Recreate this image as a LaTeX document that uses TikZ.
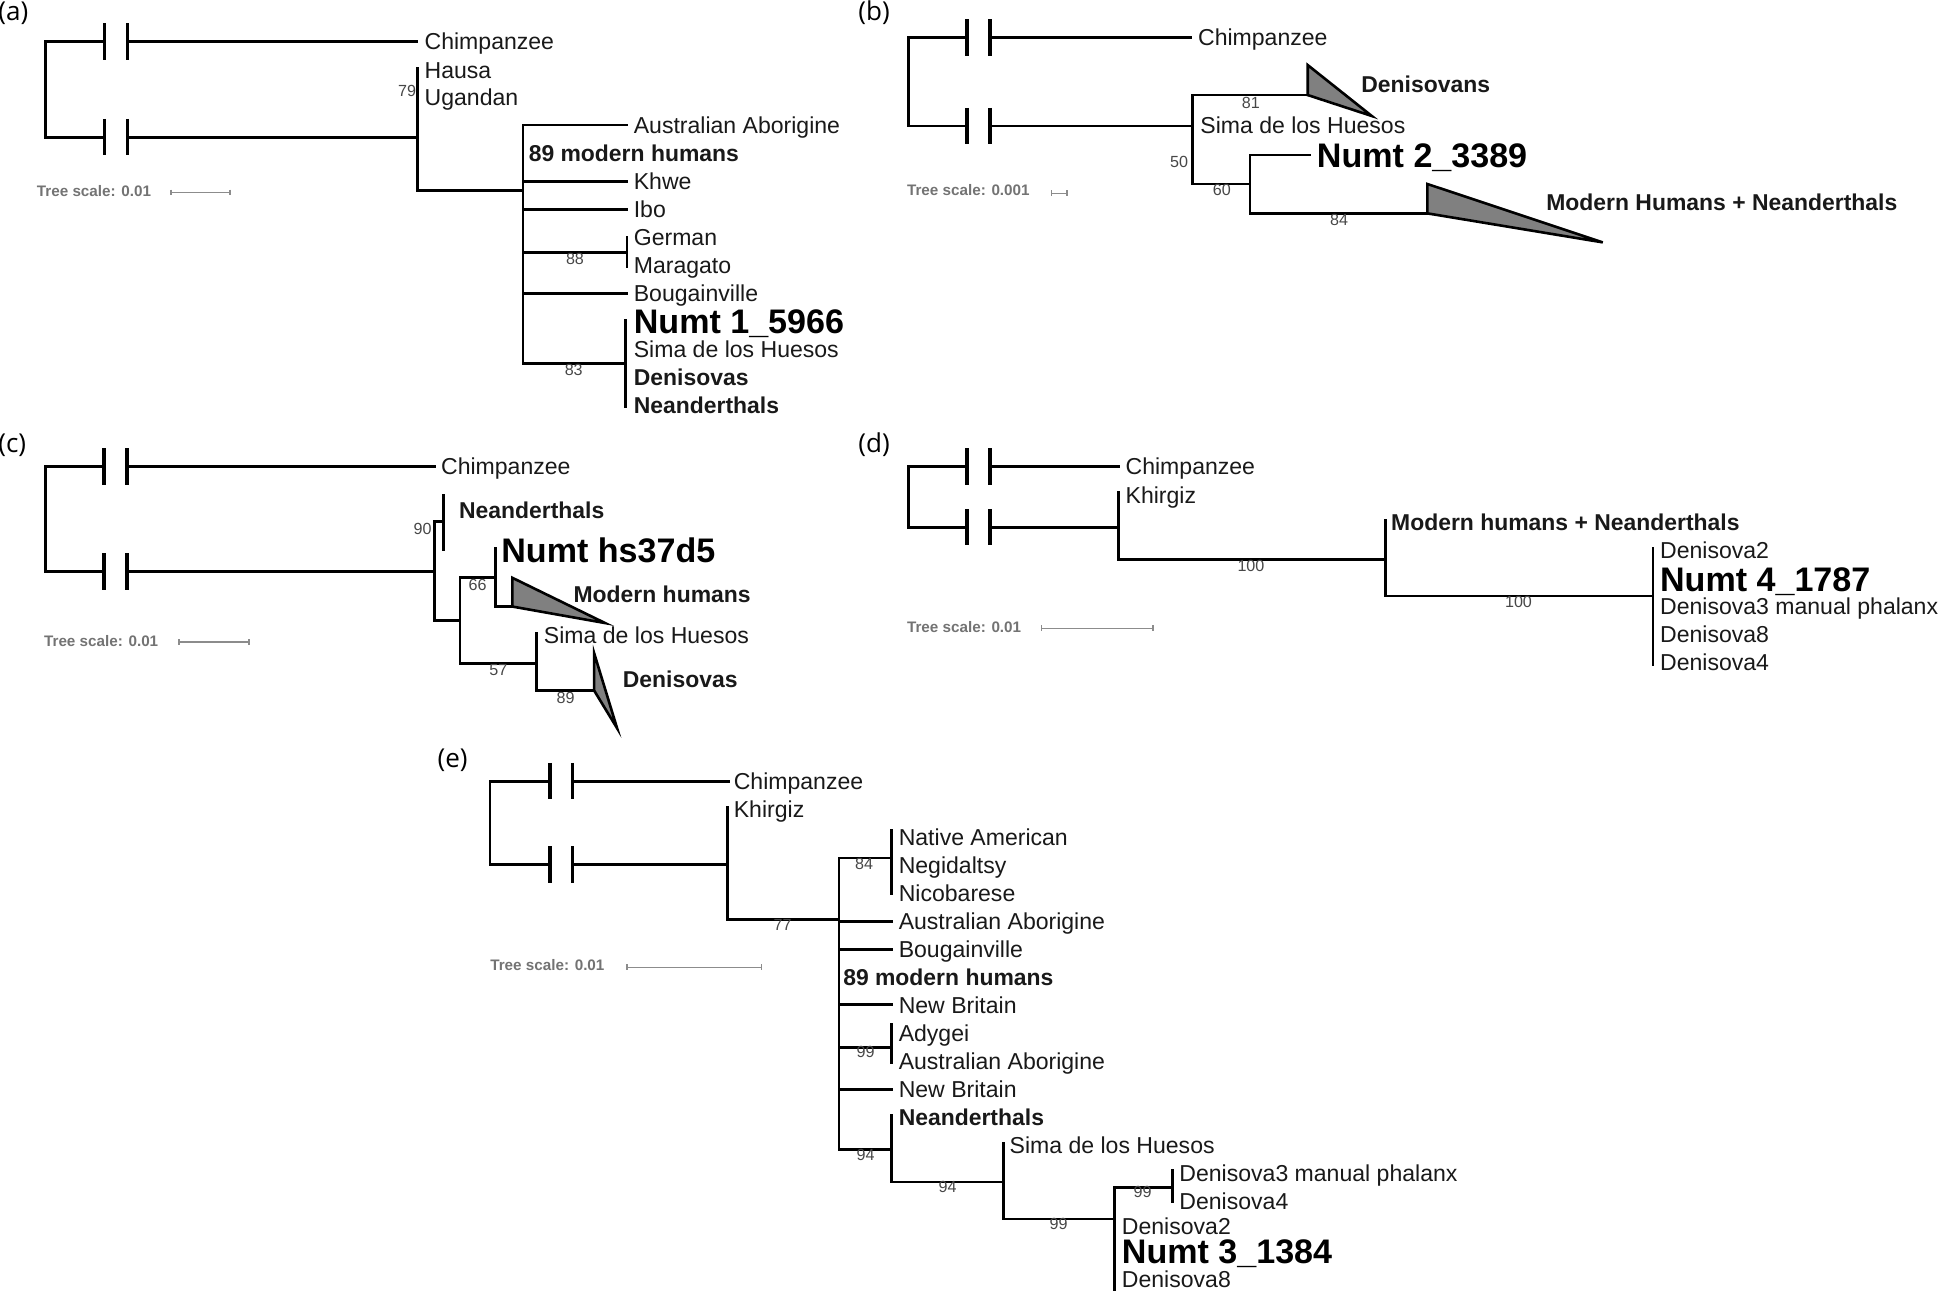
\documentclass[tikz,border=0pt]{standalone}
\usepackage{fontspec}
\setmainfont{Liberation Sans}
\newfontfamily\panelfont{Open Sans}
\begin{document}
\begin{tikzpicture}[x=1pt,y=-1pt,
  tree/.style={line width=2.2pt, line cap=rect, line join=miter},
  brkbar/.style={line width=2.8pt},
  clade/.style={draw=black, fill=black!50, line width=2.1pt, line join=miter},
  lab/.style={anchor=base west, inner sep=0pt, yshift=-6.66pt, font=\fontsize{18.6}{20}\selectfont, text=black!90},
  blab/.style={lab, font=\fontsize{18.5}{20}\selectfont\bfseries},
  numt/.style={anchor=base west, inner sep=0pt, yshift=-9.85pt, font=\fontsize{27.5}{30}\selectfont\bfseries},
  sup/.style={anchor=base, inner sep=0pt, yshift=-4.65pt, font=\fontsize{13}{14}\selectfont, text=black!72},
  scl/.style={anchor=base west, inner sep=0pt, yshift=-4.4pt, font=\fontsize{12.3}{13}\selectfont\bfseries, text=black!55},
  sbar/.style={line width=1pt, draw=black!45},
  plab/.style={anchor=base west, inner sep=0pt, font=\panelfont\fontsize{21}{22}\selectfont},
  brk/.pic={\draw[brkbar] (0,-14.7) -- (0,14.7); \draw[brkbar] (18.5,-14.7) -- (18.5,14.7);}
]
\useasboundingbox (0,0) rectangle (1568,1042.7);

%================ panel (a)
\node[plab] (pa) at (-1.5,16.5) {(a)};
\coordinate (aR) at (36.8,72);
\coordinate (aX1) at (84.2,33.6);
\coordinate (aX2) at (84.2,110.7);
\coordinate (aC) at (336,33.6);
\coordinate (aN1) at (337.2,110.7);
\draw[tree] (aX1) -| (aR) |- (aX2);
\pic at (aX1) {brk}; \pic at (aX2) {brk};
\draw[tree] (aX1) ++(18.5,0) -- (aC);
\draw[tree] (aX2) ++(18.5,0) -- (aN1);
\node[lab] (aChim) at (342.5,33.6) {Chimpanzee};
\coordinate (aHa) at (337.2,55.1);
\coordinate (aN2) at (422,153.9);
\draw[tree] (aHa) -- (aN1) |- (aN2);
\node[lab] (aHausa) at (342.5,56.5) {Hausa};
\node[lab] (aUg) at (342.5,78.8) {Ugandan};
\node[sup, anchor=base east] (a79) at (336,73) {79};
\coordinate (aL1) at (506,100.9);
\coordinate (aL3) at (506,146.6);
\coordinate (aL4) at (506,168.9);
\coordinate (aN3) at (506,203.6);
\coordinate (aL6) at (506,236.7);
\coordinate (aN4) at (504.7,293.2);
\foreach \c in {aL1,aL3,aL4,aN3,aL6,aN4} \draw[tree] (aN2) |- (\c);
\coordinate (aGt) at (506,191.5); \coordinate (aGb) at (506,215.2);
\draw[tree] (aGt) -- (aGb);
\coordinate (aNt) at (504.7,258.3); \coordinate (aNb) at (504.7,328.2);
\draw[tree] (aNt) -- (aNb);
\node[lab] (aAus) at (511.3,100.9) {Australian Aborigine};
\node[blab] (a89) at (426.5,123.7) {89 modern humans};
\node[lab] (aKhwe) at (511.3,146.6) {Khwe};
\node[lab] (aIbo) at (511.3,168.9) {Ibo};
\node[lab] (aGer) at (511.3,191.5) {German};
\node[lab] (aMar) at (511.3,214.4) {Maragato};
\node[sup] (a88) at (464,208.5) {88};
\node[lab] (aBou) at (511.3,236.7) {Bougainville};
\node[numt] (aNumt) at (511.3,259.6) {Numt 1\_5966};
\node[lab] (aSima) at (511.3,281.9) {Sima de los Huesos};
\node[blab] (aDen) at (511.3,304.5) {Denisovas};
\node[blab] (aNea) at (511.3,326.9) {Neanderthals};
\node[sup] (a83) at (463,298.6) {83};
\node[scl] (aScale) at (29.6,154.2) {Tree scale: 0.01};
\coordinate (aS1) at (137.9,155.3); \coordinate (aS2) at (185.6,155.3);
\draw[sbar] (aS1) -- (aS2) (aS1) ++(0,-2.3) -- ++(0,4.6) (aS2) ++(0,-2.3) -- ++(0,4.6);

%================ panel (b)
\node[plab] (pb) at (692.5,16.5) {(b)};
\coordinate (bR) at (733,66);
\coordinate (bX1) at (780.3,30.1);
\coordinate (bX2) at (780.3,101.7);
\coordinate (bC) at (961.1,30.1);
\coordinate (bN1) at (962.5,101.7);
\draw[tree] (bX1) -| (bR) |- (bX2);
\pic at (bX1) {brk}; \pic at (bX2) {brk};
\draw[tree] (bX1) ++(18.5,0) -- (bC);
\draw[tree] (bX2) ++(18.5,0) -- (bN1);
\node[lab] (bChim) at (966.7,30.1) {Chimpanzee};
\coordinate (bD0) at (1055.3,76.7);
\coordinate (bD1) at (1055.3,52.5);
\coordinate (bD2) at (1107,93.6);
\coordinate (bN2) at (1008.8,148.5);
\draw[tree] (bN1) |- (bD0);
\draw[tree] (bN1) |- (bN2);
\draw[clade] (bD1) -- (bD0) -- (bD2) -- cycle;
\node[blab] (bDen) at (1098.4,67.8) {Denisovans};
\node[sup] (b81) at (1009.4,82.9) {81};
\node[lab] (bSima) at (968.5,100.9) {Sima de los Huesos};
\node[sup] (b50) at (951.6,130.4) {50};
\node[sup] (b60) at (986,153.3) {60};
\coordinate (bNu) at (1057,125.1);
\coordinate (bM0) at (1151.9,172.2);
\coordinate (bM1) at (1151.9,148.5);
\coordinate (bM2) at (1293.4,195.6);
\draw[tree] (bN2) |- (bNu);
\draw[tree] (bN2) |- (bM0);
\draw[clade] (bM1) -- (bM0) -- (bM2) -- cycle;
\node[numt] (bNumt) at (1062.6,125.1) {Numt 2\_3389};
\node[sup] (b84) at (1080.6,177.6) {84};
\node[blab] (bMHN) at (1247.7,163.3) {Modern Humans + Neanderthals};
\node[scl] (bScale) at (731.8,153.3) {Tree scale: 0.001};
\coordinate (bS1) at (848.7,156); \coordinate (bS2) at (861,156);
\draw[sbar] (bS1) -- (bS2) (bS1) ++(0,-2.3) -- ++(0,4.6) (bS2) ++(0,-2.3) -- ++(0,4.6);

%================ panel (c)
\node[plab] (pc) at (-1.5,364.8) {(c)};
\coordinate (cR) at (36.7,419);
\coordinate (cX1) at (84,376.6);
\coordinate (cX2) at (84,461.3);
\coordinate (cC) at (350.5,376.6);
\coordinate (cN1) at (350.5,461.3);
\draw[tree] (cX1) -| (cR) |- (cX2);
\pic at (cX1) {brk}; \pic at (cX2) {brk};
\draw[tree] (cX1) ++(18.5,0) -- (cC);
\draw[tree] (cX2) ++(18.5,0) -- (cN1);
\node[lab] (cChim) at (355.8,376.6) {Chimpanzee};
\coordinate (cNe) at (358,420.9);
\coordinate (cNeT) at (358,399.4);
\coordinate (cNeB) at (358,443.3);
\coordinate (cN2) at (371.2,500.8);
\draw[tree] (cN1) |- (cNe);
\draw[tree] (cN1) |- (cN2);
\draw[tree] (cNeT) -- (cNeB);
\node[sup, anchor=base east] (c90) at (348.5,426.8) {90};
\node[blab] (cNea) at (370.3,412) {Neanderthals};
\coordinate (cN3) at (400,465.8);
\coordinate (cN4) at (433.1,535.2);
\draw[tree] (cN2) |- (cN3);
\draw[tree] (cN2) |- (cN4);
\node[sup] (c66) at (385.4,472) {66};
\coordinate (cNu) at (400,442.5);
\coordinate (cM0) at (413.5,489.5);
\coordinate (cM1) at (413.5,466.3);
\coordinate (cM2) at (488.3,502.8);
\draw[tree] (cN3) -- (cNu);
\draw[tree] (cN3) |- (cM0);
\draw[clade] (cM1) -- (cM0) -- (cM2) -- cycle;
\node[numt] (cNumt) at (404.4,444.3) {Numt hs37d5};
\node[blab] (cMH) at (462.7,479.3) {Modern humans};
\node[sup] (c57) at (402.2,540.1) {57};
\coordinate (cSi) at (433.1,511);
\coordinate (cD0) at (479.5,557.3);
\coordinate (cD1) at (479.5,527.2);
\coordinate (cD2) at (498,587.7);
\draw[tree] (cN4) -- (cSi);
\draw[tree] (cN4) |- (cD0);
\draw[clade] (cD1) -- (cD0) -- (cD2) -- cycle;
\node[lab] (cSima) at (438.8,512.4) {Sima de los Huesos};
\node[sup] (c89) at (456.5,562.7) {89};
\node[blab] (cDen) at (502.5,548.1) {Denisovas};
\node[scl] (cScale) at (35.4,517) {Tree scale: 0.01};
\coordinate (cS1) at (144.5,518); \coordinate (cS2) at (201,518);
\draw[sbar] (cS1) -- (cS2) (cS1) ++(0,-2.3) -- ++(0,4.6) (cS2) ++(0,-2.3) -- ++(0,4.6);

%================ panel (d)
\node[plab] (pd) at (692.5,364.8) {(d)};
\coordinate (dR) at (733,401);
\coordinate (dX1) at (780.3,376.6);
\coordinate (dX2) at (780.3,425.5);
\coordinate (dC) at (902.7,376.6);
\coordinate (dN1) at (902.7,425.5);
\draw[tree] (dX1) -| (dR) |- (dX2);
\pic at (dX1) {brk}; \pic at (dX2) {brk};
\draw[tree] (dX1) ++(18.5,0) -- (dC);
\draw[tree] (dX2) ++(18.5,0) -- (dN1);
\node[lab] (dChim) at (908.2,376.6) {Chimpanzee};
\coordinate (dK) at (902.7,397.5);
\coordinate (dN2) at (1118,451.3);
\draw[tree] (dK) -- (dN1) |- (dN2);
\node[lab] (dKh) at (908.2,399.4) {Khirgiz};
\node[sup] (d100a) at (1009.5,456.4) {100};
\coordinate (dMH) at (1118,419.6);
\coordinate (dN3) at (1334,480.9);
\draw[tree] (dMH) -- (dN2) |- (dN3);
\node[blab] (dMHN) at (1122.5,421.7) {Modern humans + Neanderthals};
\node[sup] (d100b) at (1225.4,485.5) {100};
\coordinate (dT) at (1334,442.5); \coordinate (dB) at (1334,536.6);
\draw[tree] (dT) -- (dB);
\node[lab] (dD2) at (1339.5,444.3) {Denisova2};
\node[numt] (dNumt) at (1339.5,467.2) {Numt 4\_1787};
\node[lab] (dD3) at (1339.5,489.5) {Denisova3 manual phalanx};
\node[lab] (dD8) at (1339.5,511.8) {Denisova8};
\node[lab] (dD4) at (1339.5,534.7) {Denisova4};
\node[scl] (dScale) at (731.8,505.7) {Tree scale: 0.01};
\coordinate (dS1) at (840.4,507); \coordinate (dS2) at (930.5,507);
\draw[sbar] (dS1) -- (dS2) (dS1) ++(0,-2.3) -- ++(0,4.6) (dS2) ++(0,-2.3) -- ++(0,4.6);

%================ panel (e)
\node[plab] (pe) at (353,619.2) {(e)};
\coordinate (eR) at (395.5,664);
\coordinate (eX1) at (443.7,630.4);
\coordinate (eX2) at (443.7,697.5);
\coordinate (eC) at (588,630.4);
\coordinate (eN1) at (587,697.5);
\draw[tree] (eX1) -| (eR) |- (eX2);
\pic at (eX1) {brk}; \pic at (eX2) {brk};
\draw[tree] (eX1) ++(18.5,0) -- (eC);
\draw[tree] (eX2) ++(18.5,0) -- (eN1);
\node[lab] (eChim) at (592,630.4) {Chimpanzee};
\coordinate (eK) at (587,651.2);
\coordinate (eN2) at (677,742.1);
\draw[tree] (eK) -- (eN1) |- (eN2);
\node[lab] (eKh) at (592,653.2) {Khirgiz};
\node[sup] (e77) at (631.6,746.4) {77};
\coordinate (eN3) at (719.4,692.4);
\coordinate (eL1) at (719.4,743.6);
\coordinate (eL2) at (719.4,766.3);
\coordinate (eL3) at (719.4,810.9);
\coordinate (eN4) at (719.4,845.3);
\coordinate (eL4) at (719.4,879.1);
\coordinate (eN5) at (719.4,927.7);
\foreach \c in {eN3,eL1,eL2,eL3,eN4,eL4,eN5} \draw[tree] (eN2) |- (\c);
\coordinate (eN3t) at (719.4,669.7); \coordinate (eN3b) at (719.4,720.8);
\draw[tree] (eN3t) -- (eN3b);
\node[sup] (e84) at (697.3,697.2) {84};
\coordinate (eN4t) at (719.4,826.8); \coordinate (eN4b) at (719.4,857.2);
\draw[tree] (eN4t) -- (eN4b);
\node[sup] (e99a) at (698.5,848.7) {99};
\node[lab] (eNA) at (725.1,675.9) {Native American};
\node[lab] (eNeg) at (725.1,698.4) {Negidaltsy};
\node[lab] (eNic) at (725.1,720.8) {Nicobarese};
\node[lab] (eAus1) at (725.1,743.6) {Australian Aborigine};
\node[lab] (eBou) at (725.1,766.3) {Bougainville};
\node[blab] (e89) at (680.3,789) {89 modern humans};
\node[lab] (eNB1) at (725.1,810.9) {New Britain};
\node[lab] (eAdy) at (725.1,833.9) {Adygei};
\node[lab] (eAus2) at (725.1,856.4) {Australian Aborigine};
\node[lab] (eNB2) at (725.1,879.1) {New Britain};
\node[blab] (eNea) at (725.1,901.8) {Neanderthals};
\coordinate (eNeT) at (719.4,899.8);
\coordinate (eN6) at (810,953.8);
\draw[tree] (eNeT) -- (eN5) |- (eN6);
\node[sup] (e94a) at (698.5,932) {94};
\coordinate (eSi) at (810,922.6);
\coordinate (eN7) at (899.5,983.7);
\draw[tree] (eSi) -- (eN6) |- (eN7);
\node[sup] (e94b) at (764.7,957.5) {94};
\node[lab] (eSima) at (814.6,924.6) {Sima de los Huesos};
\coordinate (eN8) at (946,958.1);
\coordinate (eBot) at (899.5,1040.5);
\draw[tree] (eN7) |- (eN8);
\draw[tree] (eN7) -- (eBot);
\node[sup] (e99b) at (854.2,987.4) {99};
\coordinate (eN8t) at (946,944.5); \coordinate (eN8b) at (946,969.5);
\draw[tree] (eN8t) -- (eN8b);
\node[sup] (e99c) at (922.1,961.8) {99};
\node[lab] (eD3) at (951.6,946.7) {Denisova3 manual phalanx};
\node[lab] (eD4) at (951.6,969.5) {Denisova4};
\node[lab] (eD2) at (905.2,989.6) {Denisova2};
\node[numt] (eNumt) at (905.2,1009.6) {Numt 3\_1384};
\node[lab] (eD8) at (905.2,1032.2) {Denisova8};
\node[scl] (eScale) at (395.5,779) {Tree scale: 0.01};
\coordinate (eS1) at (506,780.5); \coordinate (eS2) at (614.7,780.5);
\draw[sbar] (eS1) -- (eS2) (eS1) ++(0,-2.3) -- ++(0,4.6) (eS2) ++(0,-2.3) -- ++(0,4.6);
\end{tikzpicture}
\end{document}
